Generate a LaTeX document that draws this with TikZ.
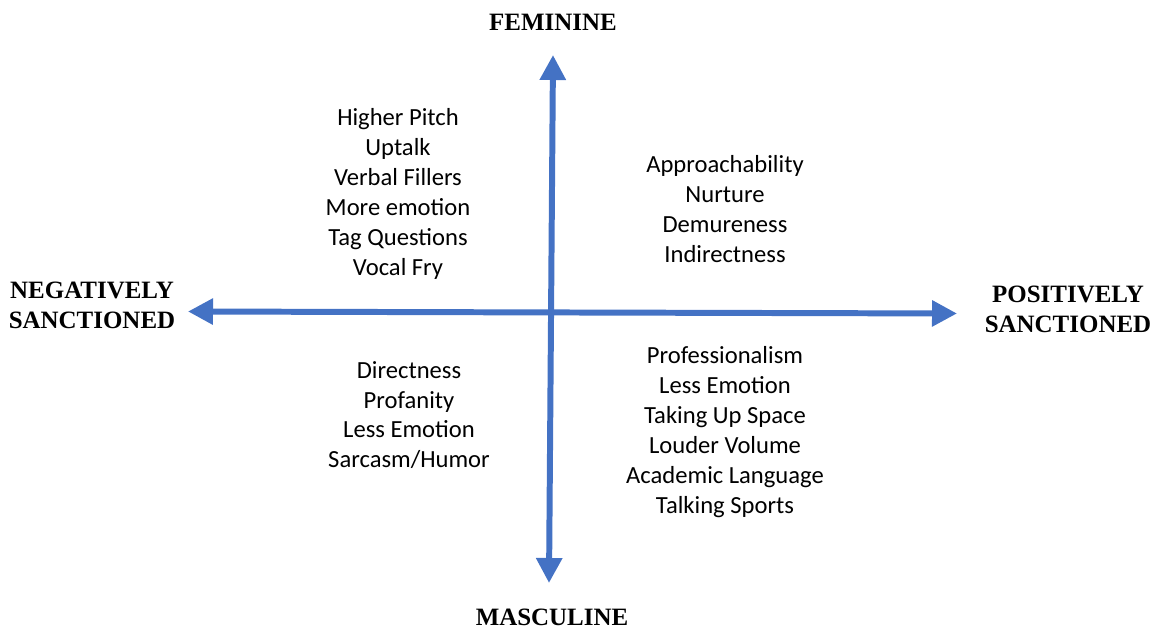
\documentclass[tikz,border=0pt]{standalone}
\usepackage{fontspec}
\setmainfont{Carlito}
\newfontfamily\axisfont{Liberation Serif}
\usetikzlibrary{arrows.meta}
\definecolor{AxisBlue}{HTML}{4472C4}
\tikzset{
  axisline/.style={AxisBlue, line width=3.4pt, {Triangle[width=0.5cm,length=0.5cm]}-{Triangle[width=0.5cm,length=0.5cm]}},
  axislabel/.style={font=\axisfont\fontsize{14.2}{17}\selectfont\bfseries, align=center, inner sep=0pt},
  traitlist/.style={font=\fontsize{14}{17}\selectfont, align=center, inner sep=0pt},
}

\begin{document}
\begin{tikzpicture}
    \useasboundingbox (0,0) rectangle (23.04,12.56);

    % Axis end points
    \coordinate (top) at (11.06, 11.46);
    \coordinate (bottom) at (10.98, 0.90);
    \coordinate (left) at (3.76, 6.33);
    \coordinate (right) at (19.14, 6.29);

    % Draw the two axes
    \draw[axisline] (bottom) -- (top);
    \draw[axisline] (left) -- (right);

    % Axis labels
    \node[axislabel] (fem) at (11.06, 12.12) {FEMININE};
    \node[axislabel] (masc) at (11.04, 0.22) {MASCULINE};
    \node[axislabel] (neg) at (1.84, 6.46) {NEGATIVELY\\SANCTIONED};
    \node[axislabel] (pos) at (21.36, 6.38) {POSITIVELY\\SANCTIONED};

    % Quadrant lists
    \node[traitlist] (femneg) at (7.96, 8.68) {Higher Pitch\\Uptalk\\Verbal Fillers\\More emotion\\Tag Questions\\Vocal Fry};
    \node[traitlist] (fempos) at (14.50, 8.38) {Approachability\\Nurture\\Demureness\\Indirectness};
    \node[traitlist] (mascneg) at (8.18, 4.26) {Directness\\Profanity\\Less Emotion\\Sarcasm/Humor};
    \node[traitlist] (mascpos) at (14.50, 3.92) {Professionalism\\Less Emotion\\Taking Up Space\\Louder Volume\\Academic Language\\Talking Sports};

\end{tikzpicture}
\end{document}
